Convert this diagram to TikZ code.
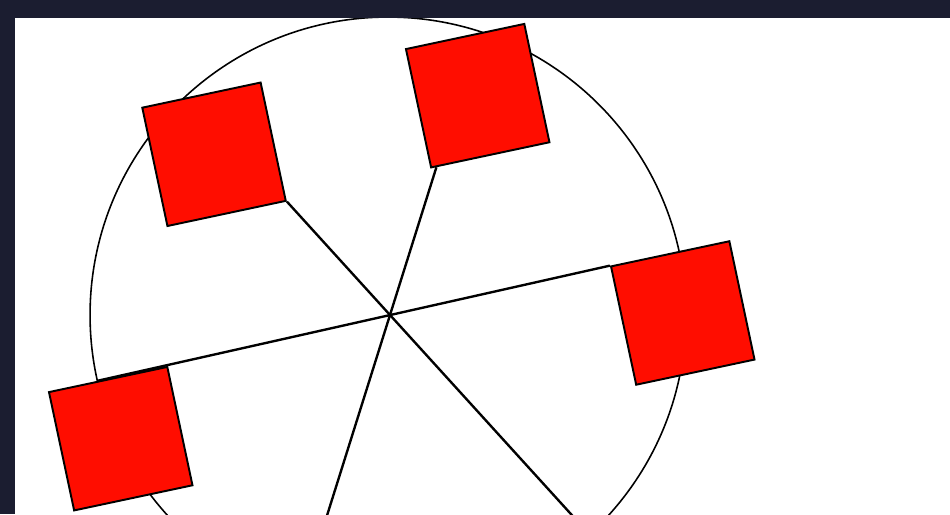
\documentclass[tikz,border=0pt]{standalone}
\usepackage{xcolor}
\usepackage{tikz}
\usetikzlibrary{calc,positioning}

\definecolor{framenavy}{RGB}{27,29,48}
\definecolor{boxred}{RGB}{255,13,0}

\begin{document}
\begin{tikzpicture}[
    x=0.02cm, y=0.02cm,
    redbox/.style={
      rectangle,
      fill=boxred,
      draw=black,
      line width=1.1pt,
      minimum size=2.42cm,
      inner sep=0pt,
      rotate=12
    },
    spoke/.style={black,line width=1.35pt}
  ]
    \useasboundingbox (-390,-199) rectangle (560,315);
    \fill[framenavy] (-390,-199) rectangle (560,315);
    \fill[white] (-375,-199) rectangle (560,296.5);
    \begin{scope}
      \clip (-375,-199) rectangle (560,296.5);
      \coordinate (hub) at (0,0);
      \draw[black,line width=0.9pt] (-2,0) circle[radius=5.96cm];
      \begin{scope}[rotate=12]
        \node[redbox] (boxtl) at (-138.7,193.8) {};
        \node[redbox] (boxtop) at (131.4,196.3) {};
        \node[redbox] (boxright) at (286.8,-58.9) {};
        \node[redbox] (boxleft) at (-289.1,-65) {};
      \end{scope}
      % three spokes through the hub
      \coordinate (topfoot) at ($(boxtop.south west)!0.05!(boxtop.south east)$);
      \draw[spoke] (boxtl.south east) -- ($(boxtl.south east)!3!(hub)$);
      \draw[spoke] (topfoot) -- ($(topfoot)!3!(hub)$);
      \draw[spoke] (boxright.north west) --
        ($(boxleft.north west)!0.41!(boxleft.north east)$);
    \end{scope}
\end{tikzpicture}
\end{document}
